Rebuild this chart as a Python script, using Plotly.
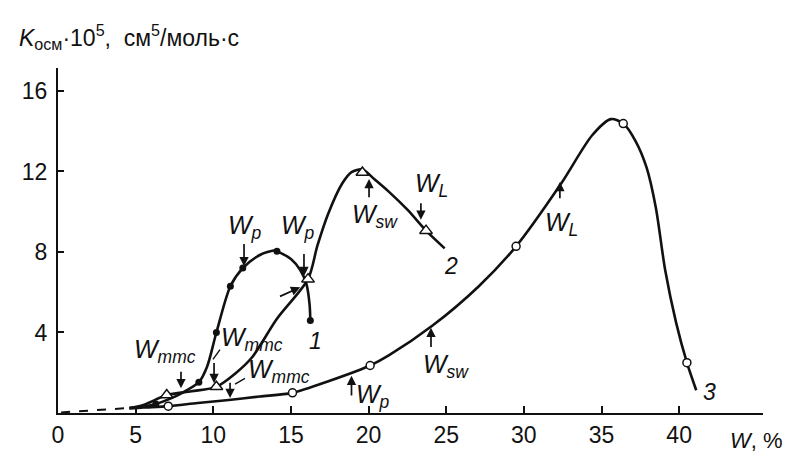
import plotly.graph_objects as go

# ---- data ----
# curve 1 (filled circles)
c1_x = [4.6, 5.5, 6.3, 7.2, 8.0, 9.07, 9.6, 10.2, 11.1, 11.9, 13.0, 13.9, 14.1, 15.0, 15.6, 16.0, 16.2, 16.25]
c1_y = [0.25, 0.33, 0.45, 0.7, 1.0, 1.53, 2.3, 4.0, 6.3, 7.2, 7.85, 8.07, 8.03, 7.65, 7.1, 6.4, 5.4, 4.6]
c1_pts_x = [6.3, 9.07, 10.2, 11.1, 11.9, 14.1, 16.25]
c1_pts_y = [0.45, 1.53, 4.0, 6.3, 7.2, 8.03, 4.6]

# curve 2 (open triangles)
c2_x = [4.6, 5.5, 7.0, 8.6, 10.2, 11.4, 12.5, 14.1, 16.1, 16.7, 17.4, 18.3, 18.9, 19.6, 20.4, 21.3, 22.5, 23.7, 24.9]
c2_y = [0.25, 0.4, 0.89, 1.08, 1.3, 1.95, 2.77, 4.68, 6.65, 8.3, 9.9, 11.4, 11.97, 12.1, 11.6, 11.0, 10.1, 9.06, 8.18]
c2_pts_x = [7.0, 10.2, 16.1, 19.6, 23.7]
c2_pts_y = [0.89, 1.3, 6.65, 11.95, 9.06]

# curve 3 (open circles)
c3_x = [4.6, 5.5, 7.1, 9.0, 11.0, 13.0, 15.1, 17.5, 20.1, 21.3, 24.1, 27.1, 29.5, 32.4, 34.4, 35.6, 36.4, 37.2, 37.9, 38.5, 39.1, 39.8, 40.5, 41.1]
c3_y = [0.22, 0.27, 0.34, 0.5, 0.65, 0.82, 1.0, 1.6, 2.36, 2.86, 4.33, 6.3, 8.28, 11.4, 13.8, 14.6, 14.38, 13.5, 12.2, 10.2, 7.1, 4.5, 2.5, 1.13]
c3_pts_x = [7.1, 15.1, 20.1, 29.5, 36.4, 40.5]
c3_pts_y = [0.34, 1.0, 2.36, 8.28, 14.38, 2.5]

# dashed extrapolation near the origin
dash_x = [0.2, 4.6]
dash_y = [0.03, 0.25]

x_ticks = [0, 5, 10, 15, 20, 25, 30, 35, 40]
y_ticks = [4, 8, 12, 16]

# annotation markers: (label, text x, text y, arrow head x, head y, tail x, tail y)
marks = [
    ("<i>W</i><sub><i>p</i></sub>", 12.04, 9.26, 11.98, 7.29, 11.98, 8.47),
    ("<i>W</i><sub><i>p</i></sub>", 15.45, 9.26, 15.84, 6.8, 15.84, 7.98),
    ("<i>W</i><sub><i>sw</i></sub>", 20.41, 9.8, 20.03, 11.63, 20.03, 10.64),
    ("<i>W</i><sub><i>L</i></sub>", 24.08, 11.33, 23.37, 9.6, 23.37, 10.49),
    ("<i>W</i><sub><i>mmc</i></sub>", 6.9, 3.1, 7.92, 1.23, 7.92, 2.12),
    ("<i>W</i><sub><i>mmc</i></sub>", 12.49, 3.69, 10.05, 1.48, 10.05, 2.56),
    ("<i>W</i><sub><i>mmc</i></sub>", 14.23, 2.07, 11.08, 0.74, 11.08, 1.58),
    ("<i>W</i><sub><i>p</i></sub>", 20.3, 0.85, 18.9, 1.85, 18.9, 0.8),
    ("<i>W</i><sub><i>sw</i></sub>", 24.98, 2.36, 24.02, 4.24, 24.02, 3.2),
    ("<i>W</i><sub><i>L</i></sub>", 32.45, 9.41, 32.32, 11.48, 32.32, 10.59),
]
# extra unlabeled arrow (head x, head y, tail x, tail y)
extra_arrow = (15.6, 6.25, 14.2, 5.76)
# short leader lines (x0, y0, x1, y1)
leaders = [(10.43, 3.15, 9.98, 2.66), (12.04, 1.72, 11.4, 1.43)]

curve_labels = [("1", 16.6, 3.6), ("2", 25.3, 7.3), ("3", 41.98, 1.03)]

FONT = "Liberation Sans, Arial, sans-serif"
BLACK = "#111111"

fig = go.Figure()
fig.add_trace(go.Scatter(x=dash_x, y=dash_y, mode="lines",
                         line=dict(color=BLACK, width=2, dash="dash"), showlegend=False))
for cx, cy in [(c1_x, c1_y), (c2_x, c2_y), (c3_x, c3_y)]:
    fig.add_trace(go.Scatter(x=cx, y=cy, mode="lines",
                             line=dict(color=BLACK, width=2.6, shape="spline", smoothing=0.8),
                             showlegend=False))
fig.add_trace(go.Scatter(x=c1_pts_x, y=c1_pts_y, mode="markers",
                         marker=dict(symbol="circle", size=7, color=BLACK), showlegend=False))
fig.add_trace(go.Scatter(x=c2_pts_x, y=c2_pts_y, mode="markers",
                         marker=dict(symbol="triangle-up", size=11, color="white",
                                     line=dict(color=BLACK, width=1.5)), showlegend=False))
fig.add_trace(go.Scatter(x=c3_pts_x, y=c3_pts_y, mode="markers",
                         marker=dict(symbol="circle", size=8, color="white",
                                     line=dict(color=BLACK, width=1.5)), showlegend=False))

annotations = []
for lab, tx, ty, hx, hy, ax, ay in marks:
    annotations.append(dict(x=tx, y=ty, xref="x", yref="y", text=lab, showarrow=False,
                            font=dict(family=FONT, size=25, color=BLACK),
                            xanchor="center", yanchor="middle"))
    annotations.append(dict(x=hx, y=hy, ax=ax, ay=ay, xref="x", yref="y", axref="x", ayref="y",
                            text="", showarrow=True, arrowhead=2, arrowsize=1.1,
                            arrowwidth=1.7, arrowcolor=BLACK))
hx, hy, ax, ay = extra_arrow
annotations.append(dict(x=hx, y=hy, ax=ax, ay=ay, xref="x", yref="y", axref="x", ayref="y",
                        text="", showarrow=True, arrowhead=2, arrowsize=1.1,
                        arrowwidth=1.7, arrowcolor=BLACK))
for lab, tx, ty in curve_labels:
    annotations.append(dict(x=tx, y=ty, xref="x", yref="y", text="<i>" + lab + "</i>",
                            showarrow=False, font=dict(family=FONT, size=23, color=BLACK)))

annotations.append(dict(x=-0.058, y=1.09, xref="paper", yref="paper", xanchor="left",
                        yanchor="middle", showarrow=False,
                        text="<i>K</i><sub>осм</sub>·10<sup>5</sup>,  см<sup>5</sup>/моль·с",
                        font=dict(family=FONT, size=23, color=BLACK)))
annotations.append(dict(x=0.95, y=-0.08, xref="paper", yref="paper", xanchor="left",
                        yanchor="middle", showarrow=False, text="<i>W</i>, %",
                        font=dict(family=FONT, size=22, color=BLACK)))

shapes = [dict(type="line", xref="x", yref="y", x0=a, y0=b, x1=c, y1=d,
               line=dict(color=BLACK, width=1.4)) for a, b, c, d in leaders]

fig.update_layout(
    width=794, height=452, autosize=False,
    margin=dict(l=50, r=39, t=60, b=44),
    paper_bgcolor="white", plot_bgcolor="white",
    annotations=annotations, shapes=shapes,
    font=dict(family=FONT, size=23, color=BLACK),
)
fig.update_xaxes(range=[0, 45.4], tickvals=x_ticks, ticks="inside", ticklen=7, tickwidth=1.5,
                 tickcolor=BLACK, showline=True, linecolor=BLACK, linewidth=2.2,
                 showgrid=False, zeroline=False, tickfont=dict(size=23, family=FONT))
fig.update_yaxes(range=[0, 17.14], tickvals=y_ticks, ticks="inside", ticklen=6, tickwidth=1.5,
                 tickcolor=BLACK, showline=True, linecolor=BLACK, linewidth=2.2,
                 showgrid=False, zeroline=False, tickfont=dict(size=23, family=FONT),
                 ticklabelstandoff=4)

fig.write_html("out.html")
